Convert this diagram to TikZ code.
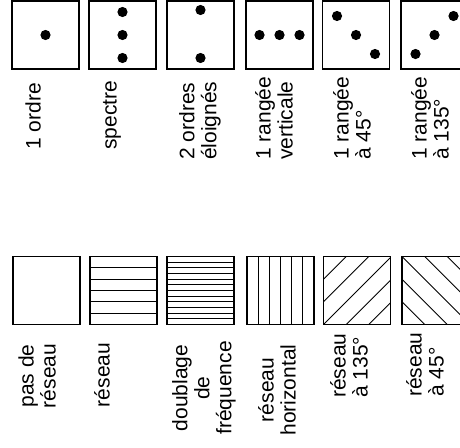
\documentclass[tikz,border=0pt]{standalone}
\usepackage{fontspec}
\setmainfont{Liberation Sans}
\usetikzlibrary{calc}

\begin{document}
\begin{tikzpicture}[
  x=1pt, y=-1pt,
  cell/.style={draw=black, line width=1.2pt, minimum width=67pt, minimum height=68pt, inner sep=0pt},
  lbl/.style={rotate=90, font=\fontsize{21}{22}\selectfont, inner sep=0pt},
  hlines/.style={path picture={
    \foreach \k in {1,...,#1} {
      \pgfmathsetmacro\off{\k*68/(#1+1)}
      \draw[line width=0.8pt] ([yshift=-\off pt]path picture bounding box.north west) -- ++(70pt,0pt);
    }}},
  vlines/.style={path picture={
    \foreach \k in {1,...,#1} {
      \pgfmathsetmacro\off{\k*67/(#1+1)}
      \draw[line width=0.8pt] ([xshift=\off pt]path picture bounding box.south west) -- ++(0pt,70pt);
    }}},
  hatchup/.style={path picture={
    \foreach \s in {-2,...,2}
      \draw[line width=0.9pt] ([xshift=\s*22.67pt]path picture bounding box.south west) -- ++(90pt,90pt);
    }},
  hatchdown/.style={path picture={
    \foreach \s in {-2,...,2}
      \draw[line width=0.9pt] ([xshift=\s*22.67pt]path picture bounding box.north west) -- ++(90pt,-90pt);
    }},
  dotr/.style={radius=5.1pt}
]
\useasboundingbox (0,0) rectangle (460,447);
\clip (0,0) rectangle (460,447);

% diffraction patterns
\node[cell] (ordre)    at (45.5,35)  {};
\node[cell] (spectre)  at (122.5,35) {};
\node[cell] (eloignes) at (200.5,35) {};
\node[cell] (verticale) at (279.5,35) {};
\node[cell] (rangA)    at (356,35)   {};
\node[cell] (rangB)    at (434.5,35) {};

\fill[dotr] (ordre.center) circle;
\foreach \d in {-23,0,23}
  \fill[dotr] ($(spectre.center)+(0,\d)$) circle;
\fill[dotr] ($(eloignes.center)+(0,-25)$) circle;
\fill[dotr] ($(eloignes.center)+(0,23)$) circle;
\foreach \d in {-20,0,20}
  \fill[dotr] ($(verticale.center)+(\d,0)$) circle;
\foreach \d in {-19,0,19}
  \fill[dotr] ($(rangA.center)+(\d,\d)$) circle;
\foreach \d in {-19,0,19}
  \fill[dotr] ($(rangB.center)+(\d,-\d)$) circle;

\node[lbl, anchor=west, align=left] (tordre)    at (33,150)  {1 ordre};
\node[lbl, anchor=west, align=left] (tspectre)  at (112,150) {spectre};
\node[lbl, anchor=west, align=left] (teloignes) at (200,160) {2 ordres\\éloignés};
\node[lbl, anchor=west, align=left] (tverticale) at (274,160) {1 rangée\\verticale};
\node[lbl, anchor=west, align=left] (trangA)    at (352,160) {1 rangée\\à 45°};
\node[lbl, anchor=west, align=left] (trangB)    at (430,160) {1 rangée\\à 135°};

% gratings
\node[cell] (aucun)      at (46.5,290.5)  {};
\node[cell, hlines=5]  (reseau)     at (123.5,290.5) {};
\node[cell, hlines=11] (doublage)   at (200.5,290.5) {};
\node[cell, vlines=5]  (horizontal) at (280.5,290.5) {};
\node[cell, hatchup]   (resA)       at (357,290.5)   {};
\node[cell, hatchdown] (resB)       at (435.5,290.5) {};

\node[lbl, align=center] (taucun)      at (37,376)  {pas de\\réseau};
\node[lbl, align=center] (treseau)     at (102,375) {réseau};
\node[lbl, align=center] (tdoublage)   at (204,388) {doublage\\de\\fréquence};
\node[lbl, align=center] (thorizontal) at (277,390) {réseau\\horizontal};
\node[lbl, anchor=west, align=left] (tresA) at (349,398) {réseau\\à 135°};
\node[lbl, anchor=west, align=left] (tresB) at (425,397) {réseau\\à 45°};
\end{tikzpicture}
\end{document}
